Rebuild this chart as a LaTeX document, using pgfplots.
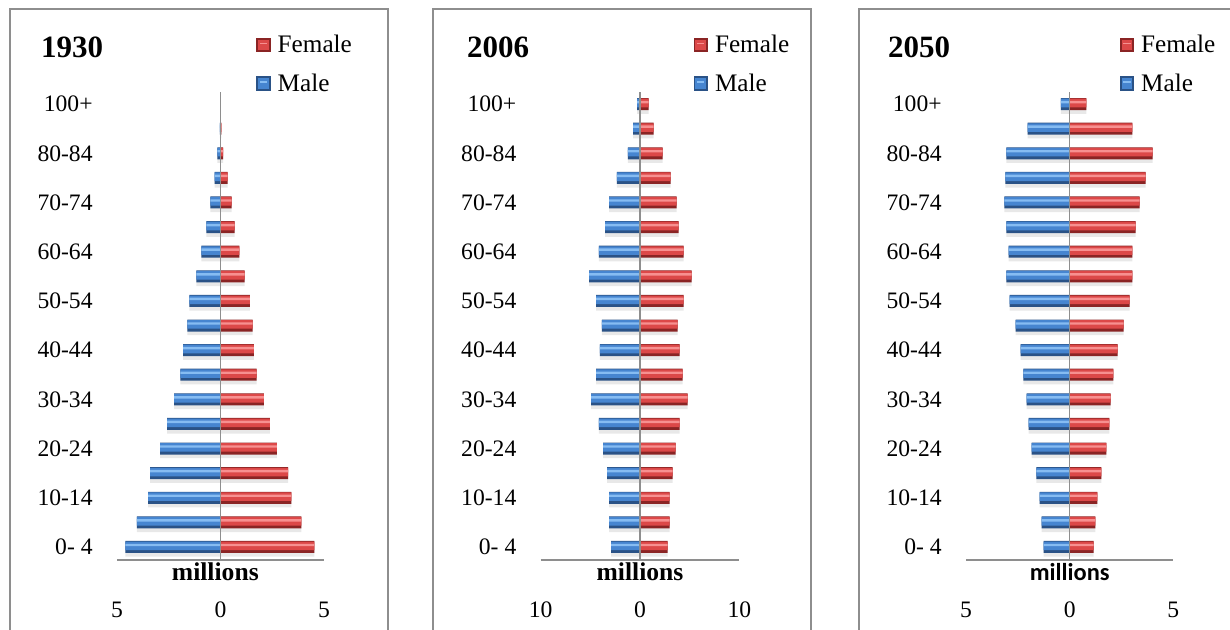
\documentclass[border=0pt]{standalone}
\usepackage{pgfplots}
\usepackage{pgfplotstable}
\pgfplotsset{compat=1.18}
\usepackage{fontspec}
\setmainfont{Liberation Serif}
\newfontfamily\carlito{Carlito}
\definecolor{bordergray}{HTML}{8E8E8E}
\definecolor{axgray}{HTML}{8E8E8E}
\definecolor{blueL}{HTML}{86BCF2}
\definecolor{blueM}{HTML}{4685D0}
\definecolor{blueD}{HTML}{2A5286}
\definecolor{redL}{HTML}{F79090}
\definecolor{redM}{HTML}{DC4848}
\definecolor{redD}{HTML}{8A2424}

% columns: age group index, female, male (millions; male negative)
\pgfplotstableread{
y f m
0 4.54 -4.60
1 3.91 -4.04
2 3.42 -3.50
3 3.27 -3.40
4 2.72 -2.92
5 2.39 -2.58
6 2.10 -2.24
7 1.74 -1.94
8 1.61 -1.80
9 1.55 -1.60
10 1.42 -1.50
11 1.17 -1.16
12 0.91 -0.92
13 0.68 -0.68
14 0.54 -0.49
15 0.34 -0.29
16 0.13 -0.15
17 0.04 -0.03
18 0.02 -0.01
}\tA
\pgfplotstableread{
y f m
0 2.79 -2.92
1 2.99 -3.12
2 2.99 -3.12
3 3.29 -3.32
4 3.59 -3.72
5 3.99 -4.13
6 4.80 -4.93
7 4.30 -4.43
8 3.99 -4.03
9 3.79 -3.83
10 4.40 -4.43
11 5.20 -5.13
12 4.40 -4.13
13 3.89 -3.52
14 3.69 -3.12
15 3.09 -2.32
16 2.28 -1.21
17 1.38 -0.70
18 0.87 -0.30
}\tB
\pgfplotstableread{
y f m
0 1.15 -1.26
1 1.24 -1.35
2 1.34 -1.45
3 1.53 -1.60
4 1.77 -1.84
5 1.92 -1.98
6 1.97 -2.08
7 2.11 -2.23
8 2.31 -2.37
9 2.60 -2.61
10 2.89 -2.90
11 3.03 -3.05
12 3.03 -2.95
13 3.18 -3.05
14 3.37 -3.15
15 3.66 -3.10
16 4.00 -3.05
17 3.03 -2.03
18 0.81 -0.42
}\tC

\pgfplotsset{
  pyr/.style={
    scale only axis, width=#1, height=234pt,
    xbar, bar width=6pt,
    ymin=-0.53, ymax=18.49,
    ytick={0,2,...,18},
    yticklabels={0- 4,10-14,20-24,30-34,40-44,50-54,60-64,70-74,80-84,100+},
    axis x line*=bottom, axis y line*=left,
    x axis line style={draw=axgray, line width=0.8pt, -},
    y axis line style={draw=none},
    tick style={draw=none}, major tick length=0pt,
    yticklabel style={anchor=east, inner sep=0pt, xshift=-12pt, font=\fontsize{11.8}{13}\selectfont},
    xticklabel style={anchor=center, inner sep=0pt, yshift=-24.75pt, font=\fontsize{11.8}{13}\selectfont},
    clip=false,
    legend style={draw=none, fill=none, anchor=north west, yshift=29.5pt, inner sep=0pt,
      row sep=7pt, font=\fontsize{12.6}{14}\selectfont, nodes={inner sep=1pt},
      /tikz/every odd column/.append style={column sep=2.5pt}},
    legend cell align=left,
  },
  shad/.style={bar shift=-1.6pt, bar width=6.5pt, draw=none, fill=black, fill opacity=0.09, forget plot},
  fbase/.style={bar shift=0pt, draw=none, fill=redD,
    legend image code/.code={\fill[redD] (0pt,-3.3pt) rectangle (7.2pt,3.9pt);
      \fill[redM] (0.9pt,-2.2pt) rectangle (6.3pt,3.0pt);
      \fill[redL] (1.8pt,0.6pt) rectangle (5.4pt,1.5pt);}},
  fbody/.style={bar shift=0.55pt, bar width=4.3pt, draw=none, fill=redM, forget plot},
  fhi/.style={bar shift=1.0pt, bar width=1.2pt, draw=none, fill=redL, forget plot},
  mbase/.style={bar shift=0pt, draw=none, fill=blueD,
    legend image code/.code={\fill[blueD] (0pt,-3.3pt) rectangle (7.2pt,3.9pt);
      \fill[blueM] (0.9pt,-2.2pt) rectangle (6.3pt,3.0pt);
      \fill[blueL] (1.8pt,0.6pt) rectangle (5.4pt,1.5pt);}},
  mbody/.style={bar shift=0.55pt, bar width=4.3pt, draw=none, fill=blueM, forget plot},
  mhi/.style={bar shift=1.0pt, bar width=1.2pt, draw=none, fill=blueL, forget plot},
}

\begin{document}
\begin{tikzpicture}
\useasboundingbox (0,0) rectangle (615pt,314.5pt);
% panel frames
\draw[bordergray, line width=1pt] (5pt,-10pt) -- (5pt,310pt) -- (194pt,310pt) -- (194pt,-10pt);
\draw[bordergray, line width=1pt] (216.5pt,-10pt) -- (216.5pt,310pt) -- (405.5pt,310pt) -- (405.5pt,-10pt);
\draw[bordergray, line width=1pt] (429.5pt,-10pt) -- (429.5pt,310pt) -- (630pt,310pt);

% ---------------- 1930 ----------------
\begin{axis}[pyr=103.5pt, at={(58.5pt,34.5pt)}, anchor=south west,
  xmin=-5, xmax=5, xtick={-5,0,5}, xticklabels={5,0,5},
  legend style={at={(rel axis cs:0.671,1)}}]
\addplot[shad] table[x=f,y=y] {\tA};
\addplot[shad] table[x=m,y=y] {\tA};
\addplot[fbase] table[x=f,y=y] {\tA};
\addplot[fbody] table[x=f,y=y] {\tA};
\addplot[fhi] table[x=f,y=y] {\tA};
\addplot[mbase] table[x=m,y=y] {\tA};
\addplot[mbody] table[x=m,y=y] {\tA};
\addplot[mhi] table[x=m,y=y] {\tA};
\legend{Female,Male}
\draw[axgray, line width=0.8pt] (rel axis cs:0.5,0) -- (rel axis cs:0.5,1);
\node[font=\bfseries\fontsize{12.8}{14}\selectfont, yshift=-6pt] at (axis cs:-0.25,-0.53) {millions};
\end{axis}

% ---------------- 2006 ----------------
\begin{axis}[pyr=99.3pt, at={(270.35pt,34.5pt)}, anchor=south west,
  xmin=-10, xmax=10, xtick={-10,0,10}, xticklabels={10,0,10},
  legend style={at={(rel axis cs:0.768,1)}}]
\addplot[shad] table[x=f,y=y] {\tB};
\addplot[shad] table[x=m,y=y] {\tB};
\addplot[fbase] table[x=f,y=y] {\tB};
\addplot[fbody] table[x=f,y=y] {\tB};
\addplot[fhi] table[x=f,y=y] {\tB};
\addplot[mbase] table[x=m,y=y] {\tB};
\addplot[mbody] table[x=m,y=y] {\tB};
\addplot[mhi] table[x=m,y=y] {\tB};
\legend{Female,Male}
\draw[axgray, line width=0.8pt] (rel axis cs:0.5,0) -- (rel axis cs:0.5,1);
\node[font=\bfseries\fontsize{12.8}{14}\selectfont, yshift=-6pt] at (axis cs:0,-0.53) {millions};
\end{axis}

% ---------------- 2050 ----------------
\begin{axis}[pyr=103.65pt, at={(483pt,34.5pt)}, anchor=south west,
  xmin=-5, xmax=5, xtick={-5,0,5}, xticklabels={5,0,5},
  legend style={at={(rel axis cs:0.740,1)}}]
\addplot[shad] table[x=f,y=y] {\tC};
\addplot[shad] table[x=m,y=y] {\tC};
\addplot[fbase] table[x=f,y=y] {\tC};
\addplot[fbody] table[x=f,y=y] {\tC};
\addplot[fhi] table[x=f,y=y] {\tC};
\addplot[mbase] table[x=m,y=y] {\tC};
\addplot[mbody] table[x=m,y=y] {\tC};
\addplot[mhi] table[x=m,y=y] {\tC};
\legend{Female,Male}
\draw[axgray, line width=0.8pt] (rel axis cs:0.5,0) -- (rel axis cs:0.5,1);
\node[font=\carlito\bfseries\fontsize{12.2}{14}\selectfont, yshift=-6pt] at (axis cs:0,-0.53) {millions};
\end{axis}

% titles
\node[font=\bfseries\fontsize{15.5}{18}\selectfont] at (36pt,291pt) {1930};
\node[font=\bfseries\fontsize{15.5}{18}\selectfont] at (249pt,291pt) {2006};
\node[font=\bfseries\fontsize{15.5}{18}\selectfont] at (459.5pt,291pt) {2050};
\end{tikzpicture}
\end{document}
